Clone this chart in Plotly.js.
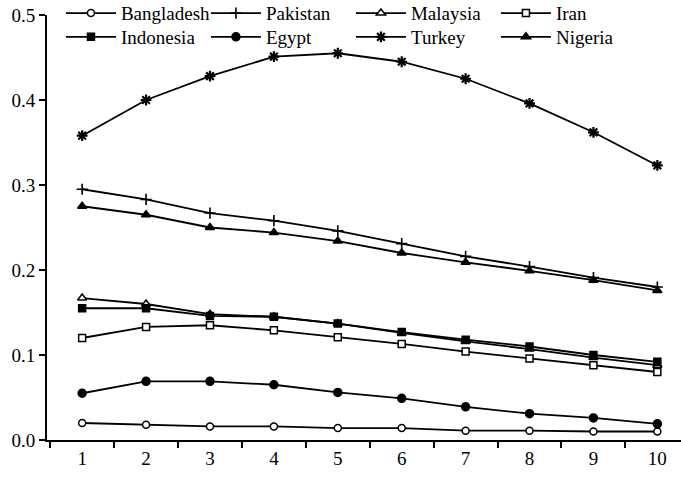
<!DOCTYPE html>
<html>
<head>
<meta charset="utf-8">
<script src="https://cdn.plot.ly/plotly-3.0.1.min.js"></script>
<style>html,body{margin:0;padding:0;background:#fff;}#chart{width:681px;height:479px;}</style>
</head>
<body>
<div id="chart"></div>
<script>
var xCats = ["1","2","3","4","5","6","7","8","9","10"];
var bangladesh = [0.020,0.018,0.016,0.016,0.014,0.014,0.011,0.011,0.010,0.010];
var pakistan   = [0.295,0.283,0.267,0.258,0.246,0.231,0.216,0.204,0.191,0.180];
var malaysia   = [0.167,0.160,0.148,0.145,0.137,0.126,0.116,0.107,0.097,0.088];
var iran       = [0.120,0.133,0.135,0.129,0.121,0.113,0.104,0.096,0.088,0.080];
var indonesia  = [0.155,0.155,0.146,0.145,0.137,0.127,0.118,0.110,0.100,0.092];
var egypt      = [0.055,0.069,0.069,0.065,0.056,0.049,0.039,0.031,0.026,0.019];
var turkey     = [0.358,0.400,0.428,0.451,0.455,0.445,0.425,0.396,0.362,0.323];
var nigeria    = [0.275,0.265,0.250,0.244,0.234,0.220,0.209,0.199,0.188,0.176];
var yTicks = [0,0.1,0.2,0.3,0.4,0.5];

function tr(name, y, symbol, fill, size, lw, leg){
  return {x:xCats, y:y, name:name, type:'scatter', mode:'lines+markers',
    line:{color:'#000', width:1.8},
    marker:{symbol:symbol, size:size, color:fill, line:{color:'#000', width:lw || 1.5}},
    cliponaxis:false, legend:leg};
}
var data = [
  tr('Bangladesh', bangladesh, 'circle', '#fff', 7, 1.5, 'legend'),
  tr('Pakistan', pakistan, 'cross-thin-open', '#000', 8, 1.6, 'legend'),
  tr('Malaysia', malaysia, 'triangle-up', '#fff', 8, 1.5, 'legend'),
  tr('Iran', iran, 'square', '#fff', 7, 1.5, 'legend'),
  tr('Indonesia', indonesia, 'square', '#000', 7, 1.5, 'legend2'),
  tr('Egypt', egypt, 'circle', '#000', 8, 1.5, 'legend2'),
  tr('Turkey', turkey, 'asterisk-open', '#000', 9, 2.2, 'legend2'),
  tr('Nigeria', nigeria, 'triangle-up', '#000', 8, 1.5, 'legend2')
];
var font = {family:'Liberation Serif', size:19, color:'#000'};
var legBase = {orientation:'h', x:0.022, xanchor:'left', yanchor:'top',
    bgcolor:'rgba(0,0,0,0)', font:font, entrywidth:80, itemwidth:50, traceorder:'normal'};
var layout = {
  width:681, height:479,
  margin:{l:47, r:0, t:15, b:39, autoexpand:false},
  paper_bgcolor:'#fff', plot_bgcolor:'#fff',
  font:font,
  showlegend:true,
  legend:Object.assign({}, legBase, {y:1.049}),
  legend2:Object.assign({}, legBase, {y:0.993}),
  xaxis:{type:'category', range:[-0.55, 9.37], tickson:'boundaries', ticks:'outside', ticklen:6, tickwidth:2,
    tickcolor:'#000', showline:true, linecolor:'#000', linewidth:2, showgrid:false, zeroline:false,
    tickfont:font, fixedrange:true, automargin:false},
  yaxis:{range:[0,0.5], tickvals:yTicks, tickformat:'.1f', ticks:'outside', ticklen:6, tickwidth:2,
    tickcolor:'#000', showline:true, linecolor:'#000', linewidth:2, showgrid:false, zeroline:false,
    tickfont:font, fixedrange:true, automargin:false}
};
Plotly.newPlot('chart', data, layout, {displayModeBar:false, staticPlot:true});
</script>
</body>
</html>
